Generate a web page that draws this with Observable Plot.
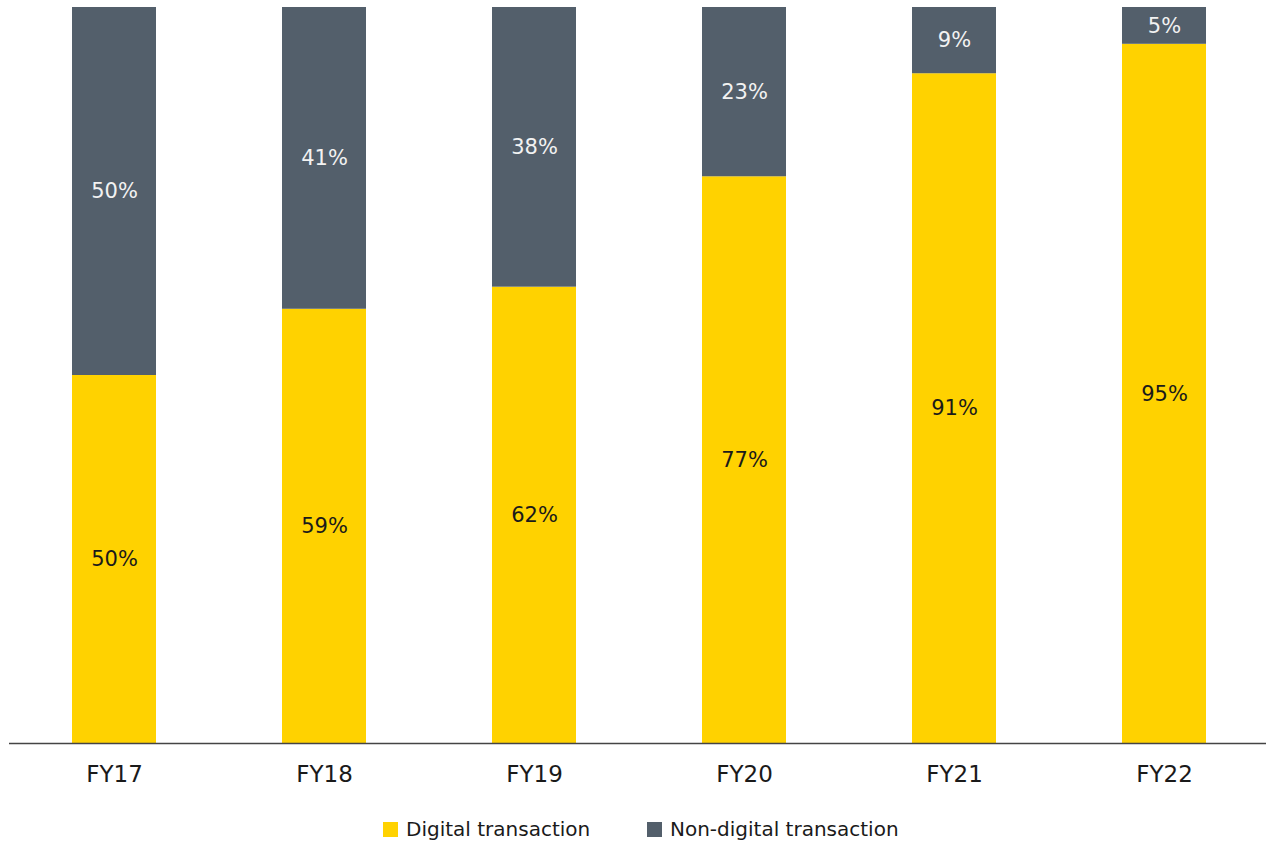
<!DOCTYPE html>
<html>
<head>
<meta charset="utf-8">
<script src="https://cdn.jsdelivr.net/npm/d3@7"></script>
<script src="https://cdn.jsdelivr.net/npm/@observablehq/plot@0.6"></script>
<style>
  body { margin: 0; background: #fff; font-family: "DejaVu Sans", sans-serif; }
  #chart { position: relative; width: 1266px; height: 843px; }
  #chart svg { display: block; }
  .legend { position: absolute; left: 0; top: 819px; width: 1266px; height: 20px; font-size: 20px; color: #1a1a1a; }
  .legend .item { position: absolute; top: 0; display: flex; align-items: center; height: 20px; white-space: nowrap; }
  .legend .sw { width: 15px; height: 15px; margin-right: 8px; flex: none; }
</style>
</head>
<body>
<div id="chart"></div>
<script>
const years = ["FY17", "FY18", "FY19", "FY20", "FY21", "FY22"];
const digital = [50, 59, 62, 77, 91, 95];
const nonDigital = [50, 41, 38, 23, 9, 5];
const seriesNames = ["Digital transaction", "Non-digital transaction"];
const seriesColors = ["#FFD200", "#535F6B"];
const labelColors = ["#1a1a1a", "#f2f2f2"];

const data = [];
years.forEach((y, i) => {
  data.push({year: y, series: seriesNames[0], value: digital[i]});
  data.push({year: y, series: seriesNames[1], value: nonDigital[i]});
});

const font = "'DejaVu Sans', sans-serif";

const chart = Plot.plot({
  width: 1266,
  height: 800,
  marginTop: 7,
  marginBottom: 57,
  marginLeft: 9,
  marginRight: -3,
  style: {fontFamily: font, fontSize: "21px", background: "#fff"},
  x: {domain: years, paddingInner: 0.6, paddingOuter: 0.3, label: null, tickSize: 0, tickPadding: 22},
  y: {domain: [0, 100], axis: null},
  color: {domain: seriesNames, range: seriesColors},
  marks: [
    Plot.barY(data, {x: "year", y: "value", fill: "series", order: seriesNames}),
    Plot.text(data, Plot.stackY({
      x: "year", y: "value", z: "series", order: seriesNames,
      text: d => d.value + "%",
      fill: d => labelColors[seriesNames.indexOf(d.series)],
      fontSize: 21
    })),
    Plot.ruleY([0], {stroke: "#444", strokeWidth: 1.5})
  ]
});
const axisLabels = chart.querySelector('[aria-label="x-axis tick label"]');
if (axisLabels) { axisLabels.setAttribute("font-size", "23"); axisLabels.setAttribute("fill", "#1a1a1a"); }
document.getElementById("chart").appendChild(chart);

const legendLefts = [383, 647];
const legend = document.createElement("div");
legend.className = "legend";
seriesNames.forEach((name, i) => {
  const item = document.createElement("div");
  item.className = "item";
  item.style.left = legendLefts[i] + "px";
  const sw = document.createElement("span");
  sw.className = "sw";
  sw.style.background = seriesColors[i];
  const lab = document.createElement("span");
  lab.textContent = name;
  item.appendChild(sw);
  item.appendChild(lab);
  legend.appendChild(item);
});
document.getElementById("chart").appendChild(legend);
</script>
</body>
</html>
